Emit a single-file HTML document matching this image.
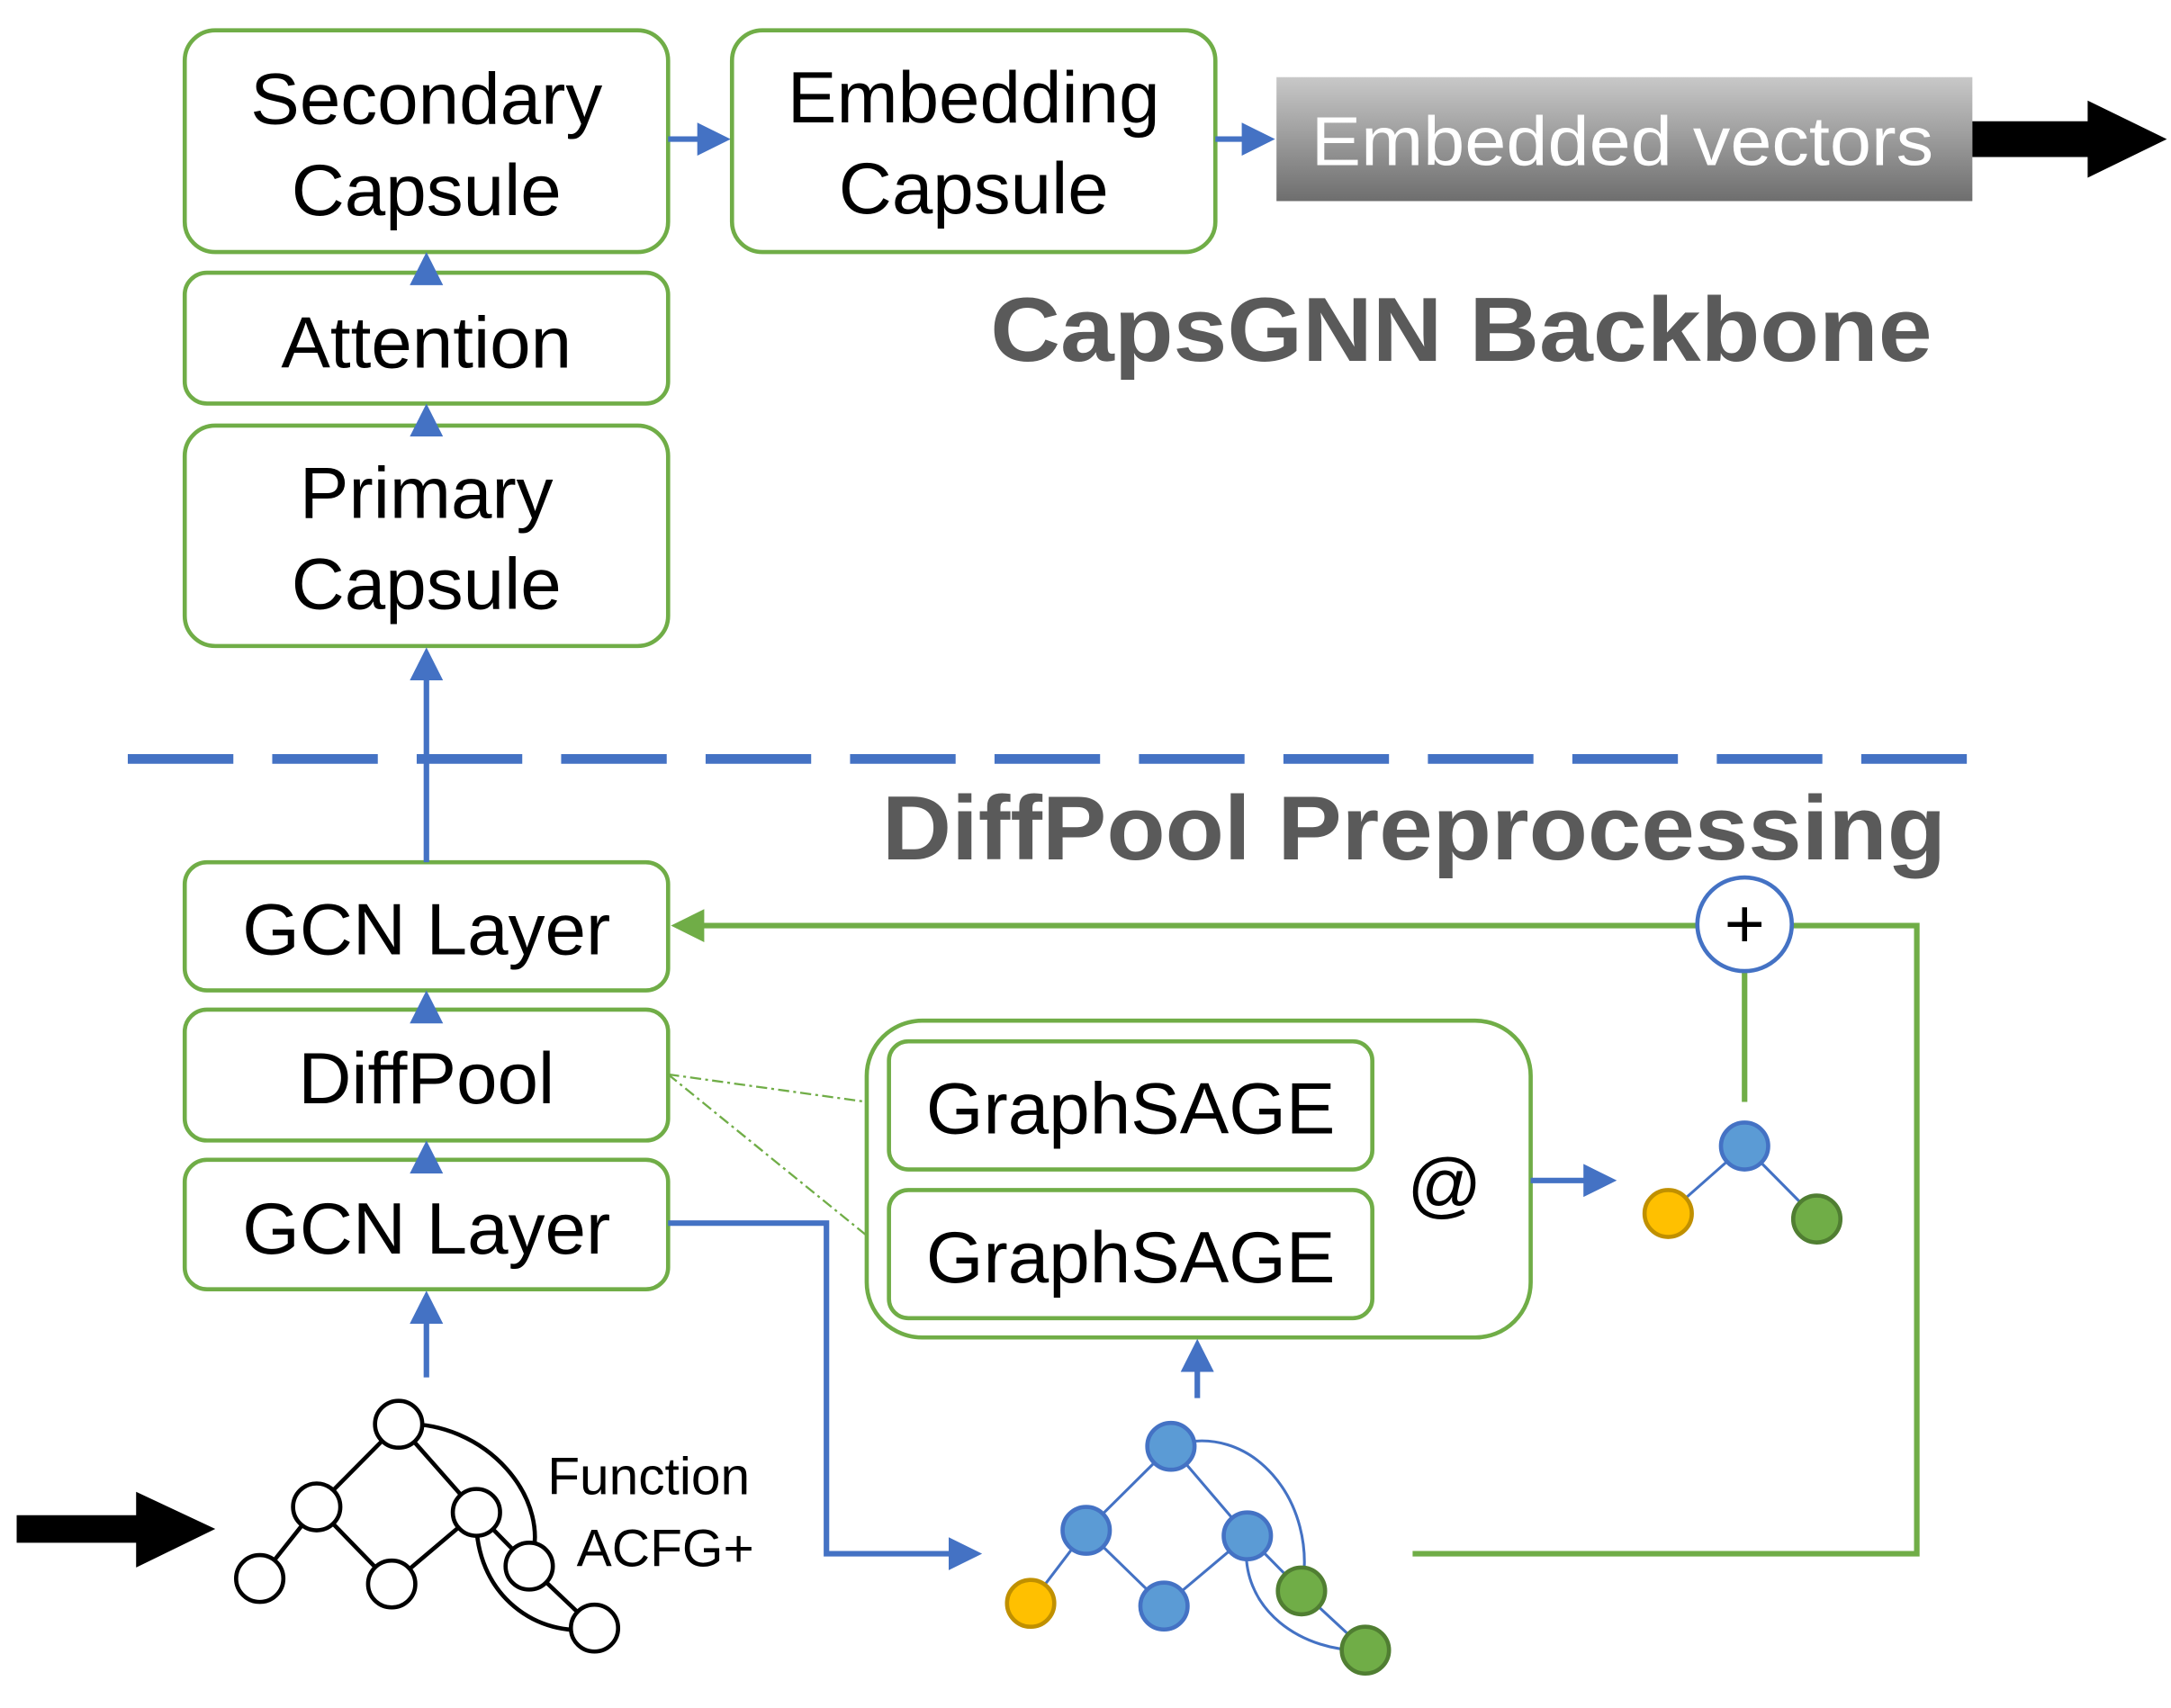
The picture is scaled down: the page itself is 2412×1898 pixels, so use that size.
<!DOCTYPE html>
<html><head><meta charset="utf-8"><style>html,body{margin:0;padding:0;background:#fff}svg{display:block}</style></head>
<body>
<svg width="2412" height="1898" viewBox="0 0 1563 1240" preserveAspectRatio="none" xmlns="http://www.w3.org/2000/svg" font-family="Liberation Sans, sans-serif">
<defs>
<linearGradient id="g" x1="0" y1="0" x2="0" y2="1"><stop offset="0" stop-color="#c8c8c8"/><stop offset="1" stop-color="#6e6e6e"/></linearGradient>
<marker id="ab" markerWidth="6" markerHeight="6" refX="5" refY="3" orient="auto" markerUnits="strokeWidth"><path d="M0,0 L6,3 L0,6 z" fill="#4472c4"/></marker>
<marker id="ag" markerWidth="6" markerHeight="6" refX="5" refY="3" orient="auto" markerUnits="strokeWidth"><path d="M0,0 L6,3 L0,6 z" fill="#70ad47"/></marker>
</defs>
<g fill="none" stroke="#70ad47" stroke-width="3">
<rect x="133" y="22" width="348" height="161" rx="22"/>
<rect x="527" y="22" width="348" height="161" rx="22"/>
<rect x="133" y="198" width="348" height="95" rx="16"/>
<rect x="133" y="309" width="348" height="160" rx="22"/>
<rect x="133" y="626" width="348" height="93" rx="16"/>
<rect x="133" y="733" width="348" height="95" rx="16"/>
<rect x="133" y="842" width="348" height="94" rx="16"/>
<rect x="624" y="741" width="478" height="230" rx="40"/>
<rect x="640" y="756" width="348" height="93" rx="14"/>
<rect x="640" y="864" width="348" height="93" rx="14"/>
</g>
<rect x="919" y="56" width="501" height="90" fill="url(#g)"/>
<text x="1168" y="120" font-size="50" fill="#fff" text-anchor="middle" textLength="448" lengthAdjust="spacingAndGlyphs">Embedded vectors</text>
<path d="M1420,88 H1503 V73 L1560,101 L1503,129 V114 H1420 z" fill="#000"/>
<path d="M12,1100 H98 V1083 L155,1110 L98,1138 V1120 H12 z" fill="#000"/>
<g font-size="53" fill="#000" text-anchor="middle">
<text x="307" y="90">Secondary</text><text x="307" y="156">Capsule</text>
<text x="701" y="89">Embedding</text><text x="701" y="155">Capsule</text>
<text x="307" y="267">Attention</text>
<text x="307" y="376">Primary</text><text x="307" y="442">Capsule</text>
<text x="307" y="693">GCN Layer</text>
<text x="307" y="801">DiffPool</text>
<text x="307" y="910">GCN Layer</text>
<text x="814" y="823">GraphSAGE</text>
<text x="814" y="931">GraphSAGE</text>
<text x="1040" y="878">@</text>
</g>
<g font-size="66" font-weight="bold" fill="#5a5a5a" text-anchor="middle">
<text x="1052" y="262" textLength="678" lengthAdjust="spacingAndGlyphs">CapsGNN Backbone</text>
<text x="1018" y="624" textLength="766" lengthAdjust="spacingAndGlyphs">DiffPool Preprocessing</text>
</g>
<line x1="92" y1="551" x2="1433" y2="551" stroke="#4472c4" stroke-width="7" stroke-dasharray="76,28"/>
<g stroke="#4472c4" stroke-width="4" fill="none">
<line x1="481" y1="101" x2="522" y2="101" marker-end="url(#ab)"/>
<line x1="875" y1="101" x2="914" y2="101" marker-end="url(#ab)"/>
<line x1="307" y1="198" x2="307" y2="187" marker-end="url(#ab)"/>
<line x1="307" y1="309" x2="307" y2="297" marker-end="url(#ab)"/>
<line x1="307" y1="626" x2="307" y2="474" marker-end="url(#ab)"/>
<line x1="307" y1="733" x2="307" y2="723" marker-end="url(#ab)"/>
<line x1="307" y1="842" x2="307" y2="832" marker-end="url(#ab)"/>
<line x1="307" y1="1000" x2="307" y2="941" marker-end="url(#ab)"/>
<line x1="862" y1="1015" x2="862" y2="976" marker-end="url(#ab)"/>
<line x1="1102" y1="857" x2="1160" y2="857" marker-end="url(#ab)"/>
<polyline points="481,888 595,888 595,1128 703,1128" marker-end="url(#ab)"/>
</g>
<g stroke="#70ad47" stroke-width="4" fill="none">
<polyline points="1290,672 1380,672 1380,1128 1017,1128"/>
<line x1="1222" y1="672" x2="487" y2="672" marker-end="url(#ag)"/>
<line x1="1256" y1="705" x2="1256" y2="800"/>
</g>
<g stroke="#70ad47" stroke-width="1.5" stroke-dasharray="8,3,2,3" fill="none">
<line x1="481" y1="780" x2="624" y2="800"/><line x1="481" y1="780" x2="624" y2="897"/>
</g>
<circle cx="1256" cy="671" r="34" fill="#fff" stroke="#4472c4" stroke-width="3"/>
<text x="1256" y="688" font-size="50" text-anchor="middle">+</text>
<g stroke="#4472c4" stroke-width="2" fill="none">
<line x1="1256" y1="832" x2="1201" y2="881"/><line x1="1256" y1="832" x2="1308" y2="885"/>
<line x1="843" y1="1050" x2="782" y2="1111"/><line x1="843" y1="1050" x2="898" y2="1115"/>
<line x1="782" y1="1111" x2="742" y2="1164"/><line x1="782" y1="1111" x2="838" y2="1166"/>
<line x1="838" y1="1166" x2="898" y2="1115"/><line x1="898" y1="1115" x2="937" y2="1155"/>
<line x1="937" y1="1155" x2="983" y2="1198"/>
<path d="M843,1050 C900,1030 950,1090 937,1155"/>
<path d="M898,1115 C890,1170 940,1200 983,1198"/>
</g>
<g stroke-width="3">
<circle cx="1256" cy="832" r="17" fill="#5b9bd5" stroke="#4472c4"/>
<circle cx="1201" cy="881" r="17" fill="#ffc000" stroke="#c09000"/>
<circle cx="1308" cy="885" r="17" fill="#70ad47" stroke="#507e32"/>
<circle cx="843" cy="1050" r="17" fill="#5b9bd5" stroke="#4472c4"/>
<circle cx="782" cy="1111" r="17" fill="#5b9bd5" stroke="#4472c4"/>
<circle cx="898" cy="1115" r="17" fill="#5b9bd5" stroke="#4472c4"/>
<circle cx="742" cy="1164" r="17" fill="#ffc000" stroke="#c09000"/>
<circle cx="838" cy="1166" r="17" fill="#5b9bd5" stroke="#4472c4"/>
<circle cx="937" cy="1155" r="17" fill="#70ad47" stroke="#507e32"/>
<circle cx="983" cy="1198" r="17" fill="#70ad47" stroke="#507e32"/>
</g>
<g stroke="#000" stroke-width="3" fill="none">
<line x1="287" y1="1034" x2="228" y2="1094"/><line x1="287" y1="1034" x2="343" y2="1098"/>
<line x1="228" y1="1094" x2="187" y2="1146"/><line x1="228" y1="1094" x2="282" y2="1150"/>
<line x1="282" y1="1150" x2="343" y2="1098"/><line x1="343" y1="1098" x2="381" y2="1137"/>
<line x1="381" y1="1137" x2="428" y2="1182"/>
<path d="M287,1034 C350,1030 400,1090 381,1137"/>
<path d="M343,1098 C340,1160 390,1190 428,1182"/>
</g>
<g fill="#fff" stroke="#000" stroke-width="3">
<circle cx="287" cy="1034" r="17"/><circle cx="228" cy="1094" r="17"/><circle cx="343" cy="1098" r="17"/>
<circle cx="187" cy="1146" r="17"/><circle cx="282" cy="1150" r="17"/><circle cx="381" cy="1137" r="17"/>
<circle cx="428" cy="1182" r="17"/>
</g>
<text x="467" y="1085" font-size="38" text-anchor="middle">Function</text>
<text x="479" y="1137" font-size="38" text-anchor="middle">ACFG+</text>
</svg>
</body></html>
